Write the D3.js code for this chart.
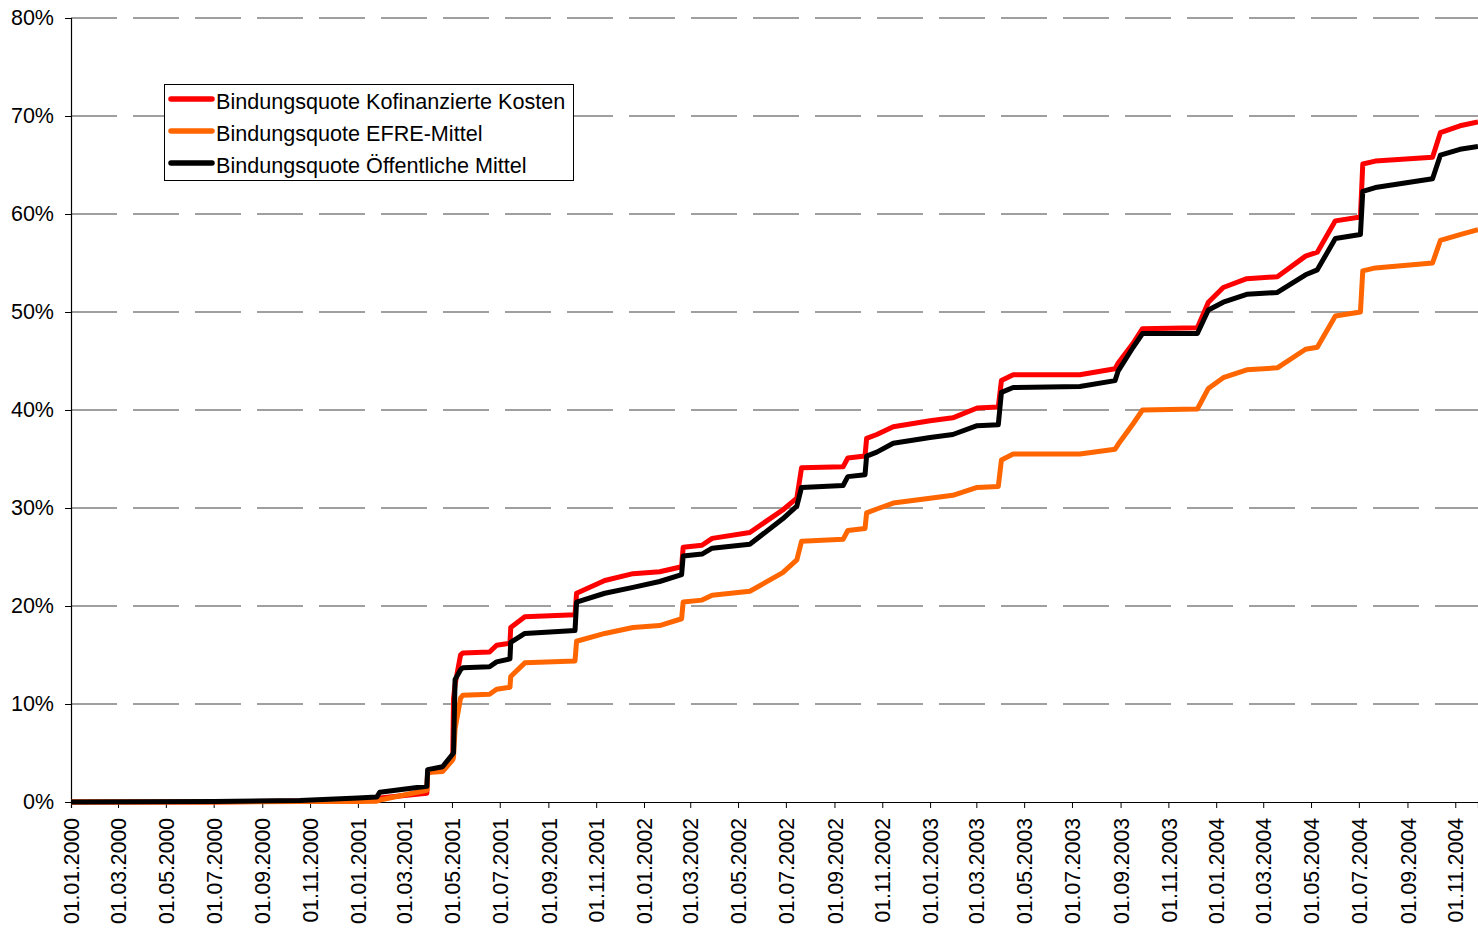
<!DOCTYPE html>
<html>
<head>
<meta charset="utf-8">
<script src="https://cdn.jsdelivr.net/npm/d3@7"></script>
<style>
  html, body { margin: 0; padding: 0; background: #fff; }
  svg { display: block; font-family: "Liberation Sans", Arial, sans-serif; }
</style>
</head>
<body>
<svg id="chart" width="1478" height="931"></svg>
<script>
// ---- Data ----
const seriesNames = [
  "Bindungsquote Kofinanzierte Kosten",
  "Bindungsquote EFRE-Mittel",
  "Bindungsquote Öffentliche Mittel"
];
const seriesColors = ["#FF0000", "#FF6600", "#000000"];

const dates = [
  "2000-01-01","2000-07-01","2000-10-19","2001-01-01","2001-01-25","2001-01-29",
  "2001-03-30","2001-03-31","2001-04-19","2001-05-02","2001-05-03","2001-05-05",
  "2001-05-12","2001-05-15","2001-06-18","2001-06-27","2001-07-14","2001-07-15",
  "2001-08-02","2001-10-05","2001-10-07","2001-11-12","2001-12-18","2002-01-21",
  "2002-02-18","2002-02-20","2002-03-16","2002-03-29","2002-05-16","2002-06-27",
  "2002-07-15","2002-07-21","2002-09-12","2002-09-18","2002-10-10","2002-10-12",
  "2002-10-25","2002-11-15","2003-01-01","2003-01-30","2003-03-02","2003-03-29",
  "2003-04-02","2003-04-17","2003-07-11","2003-08-25","2003-08-29","2003-09-17",
  "2003-09-29","2003-12-08","2003-12-22","2004-01-10","2004-02-09","2004-03-19",
  "2004-04-24","2004-05-09","2004-06-01","2004-07-03","2004-07-06","2004-07-22",
  "2004-10-03","2004-10-13","2004-11-07","2004-11-30"
];
// Kofinanzierte Kosten (red), %
const valuesKofin = [
  0,0,0.1,0.2,0.25,0.4,
  0.9,3.0,3.3,4.4,10.5,12.0,
  15.0,15.2,15.3,16.0,16.2,17.8,
  18.9,19.1,21.3,22.6,23.3,23.5,
  24.0,26.0,26.2,26.9,27.5,29.8,
  31.0,34.1,34.2,35.1,35.3,37.1,
  37.5,38.3,38.9,39.2,40.2,40.3,
  43.0,43.6,43.6,44.2,44.8,46.8,
  48.3,48.4,51.0,52.5,53.4,53.6,
  55.7,56.1,59.3,59.7,65.1,65.4,
  65.8,68.3,69.0,69.4
];
// EFRE-Mittel (orange), %
const valuesEfre = [
  0,0,0.05,0.05,0.08,0.2,
  1.2,3.0,3.1,4.3,4.6,7.5,
  10.6,10.9,11.0,11.5,11.7,12.8,
  14.2,14.4,16.4,17.2,17.8,18.0,
  18.7,20.4,20.6,21.1,21.5,23.4,
  24.7,26.6,26.8,27.7,27.9,29.5,
  29.9,30.5,31.0,31.3,32.1,32.2,
  34.9,35.5,35.5,36.0,36.5,38.6,
  40.0,40.1,42.2,43.3,44.1,44.3,
  46.2,46.4,49.6,50.0,54.2,54.5,
  55.0,57.3,57.9,58.4
];
// Öffentliche Mittel (black), %
const valuesOeff = [
  0,0.05,0.15,0.4,0.5,1.0,
  1.6,3.3,3.6,4.9,5.0,12.5,
  13.5,13.7,13.8,14.3,14.6,16.3,
  17.2,17.5,20.4,21.3,21.9,22.5,
  23.2,25.1,25.3,25.9,26.3,28.9,
  30.2,32.1,32.3,33.2,33.4,35.3,
  35.7,36.6,37.2,37.5,38.4,38.5,
  41.8,42.3,42.4,43.0,44.0,46.4,
  47.8,47.8,50.2,51.0,51.8,52.0,
  53.8,54.3,57.5,57.9,62.3,62.7,
  63.6,66.0,66.6,66.9
];
const yTicks = [0,10,20,30,40,50,60,70,80];
const xDomain = ["2000-01-01","2004-11-30"];

// ---- Layout ----
const svg = d3.select("#chart");
const plotL = 71, plotR = 1478, plotT = 18, plotB = 802;
const parse = d3.utcParse("%Y-%m-%d");
const x = d3.scaleUtc().domain(xDomain.map(parse)).range([plotL, plotR]);
const y = d3.scaleLinear().domain([0, 80]).range([plotB, plotT]);
const fontFam = "'Liberation Sans', Arial, sans-serif";

// gridlines
svg.append("g").selectAll("line").data(yTicks.filter(d => d > 0)).join("line")
  .attr("x1", plotL).attr("x2", plotR)
  .attr("y1", d => y(d)).attr("y2", d => y(d))
  .attr("stroke", "#808080").attr("stroke-width", 1.3)
  .attr("stroke-dasharray", "46,16");

// y axis
const yAxis = svg.append("g").attr("transform", `translate(${plotL},0)`)
  .call(d3.axisLeft(y).tickValues(yTicks).tickSize(6).tickPadding(11).tickFormat(d => d + "%"));
yAxis.select(".domain").attr("stroke", "#000").attr("stroke-width", 1.2);
yAxis.selectAll(".tick line").attr("stroke", "#000");
yAxis.selectAll("text").attr("font-size", 21.5).attr("fill", "#000")
  .attr("font-family", fontFam);

// x axis
const xAxis = svg.append("g").attr("transform", `translate(0,${plotB})`)
  .call(d3.axisBottom(x).ticks(d3.utcMonth.every(2)).tickSize(6).tickFormat(d3.utcFormat("%d.%m.%Y")));
xAxis.select(".domain").attr("stroke", "#000").attr("stroke-width", 1.2);
xAxis.selectAll(".tick line").attr("stroke", "#000");
xAxis.selectAll("text")
  .attr("font-size", 21.2).attr("fill", "#000")
  .attr("font-family", fontFam)
  .attr("text-anchor", "end")
  .attr("transform", "rotate(-90)")
  .attr("x", -16).attr("y", 0).attr("dy", "0.36em");

// lines
const seriesValues = [valuesKofin, valuesEfre, valuesOeff];
const line = d3.line().x(d => x(d[0])).y(d => y(d[1]));
seriesValues.forEach((vals, i) => {
  const pts = dates.map((d, j) => [parse(d), vals[j]]);
  svg.append("path").datum(pts)
    .attr("d", line)
    .attr("fill", "none")
    .attr("stroke", seriesColors[i])
    .attr("stroke-width", 5)
    .attr("stroke-linejoin", "round")
    .attr("stroke-linecap", "butt");
});

// legend
const lg = svg.append("g");
lg.append("rect").attr("x", 164.5).attr("y", 84.5).attr("width", 409).attr("height", 96)
  .attr("fill", "#fff").attr("stroke", "#000").attr("stroke-width", 1);
seriesNames.forEach((name, i) => {
  const yy = 99 + i * 32;
  lg.append("line").attr("x1", 171).attr("x2", 212).attr("y1", yy).attr("y2", yy)
    .attr("stroke", seriesColors[i]).attr("stroke-width", 5.5).attr("stroke-linecap", "round");
  lg.append("text").attr("x", 216).attr("y", yy + 2).attr("dy", "0.36em")
    .attr("font-size", 21.6).attr("fill", "#000").attr("font-family", fontFam).text(name);
});
</script>
</body>
</html>
